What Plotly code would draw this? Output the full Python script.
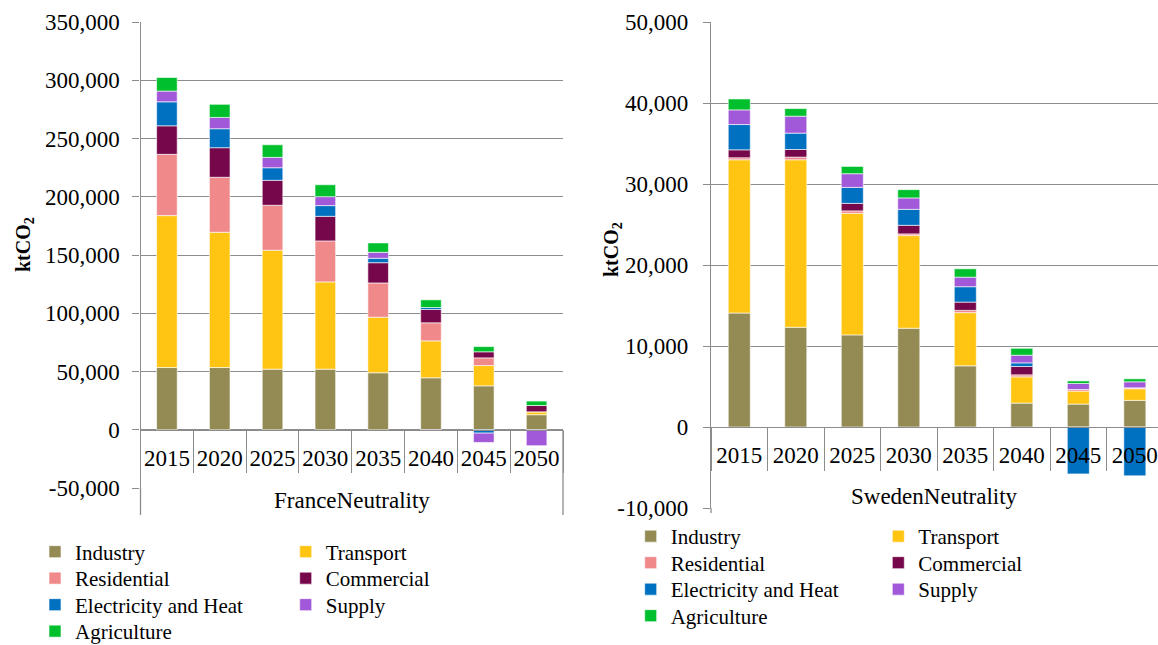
import plotly.graph_objects as go

# ---------------- data ----------------
years = ["2015", "2020", "2025", "2030", "2035", "2040", "2045", "2050"]
sectors = ["Industry", "Transport", "Residential", "Commercial",
           "Electricity and Heat", "Supply", "Agriculture"]

france_industry    = [53400, 53400, 52000, 52000, 48900, 44600, 37700, 12900]
france_transport   = [130400, 116100, 102100, 74900, 47700, 31700, 17400, 2500]
france_residential = [52600, 47200, 38600, 35200, 29400, 15500, 6600, 0]
france_commercial  = [24500, 25400, 21400, 21100, 17400, 11400, 5200, 5400]
france_elec_heat   = [20600, 16300, 10800, 9200, 3800, 1700, -2900, 0]
france_supply      = [9200, 9700, 8900, 7700, 5100, -600, -8000, -13700]
france_agriculture = [11700, 11200, 10800, 10200, 8100, 6600, 4500, 3800]

sweden_industry    = [14070, 12310, 11370, 12190, 7550, 2950, 2830, 3290]
sweden_transport   = [18920, 20680, 15010, 11440, 6570, 3240, 1600, 1430]
sweden_residential = [250, 330, 300, 210, 280, 250, 200, 120]
sweden_commercial  = [980, 940, 930, 1060, 1020, 1030, 0, 0]
sweden_elec_heat   = [3120, 2020, 1970, 1970, 1900, 450, -5790, -6030]
sweden_supply      = [1810, 2090, 1690, 1410, 1180, 940, 740, 740]
sweden_agriculture = [1350, 940, 900, 1020, 1030, 860, 320, 370]

france_ticks = [-50000, 0, 50000, 100000, 150000, 200000, 250000, 300000, 350000]
sweden_ticks = [-10000, 0, 10000, 20000, 30000, 40000, 50000]
france_ticktext = [f"{v:,}" for v in france_ticks]
sweden_ticktext = [f"{v:,}" for v in sweden_ticks]

france_group = "FranceNeutrality"
sweden_group = "SwedenNeutrality"

colors = ["#948A54", "#FFC512", "#F0898A", "#77074B", "#0070C0", "#A259D9", "#00BF2D"]

france_series = [france_industry, france_transport, france_residential, france_commercial,
                 france_elec_heat, france_supply, france_agriculture]
sweden_series = [sweden_industry, sweden_transport, sweden_residential, sweden_commercial,
                 sweden_elec_heat, sweden_supply, sweden_agriculture]

# ---------------- layout helpers ----------------
W, H = 1158, 645
FONT = "Liberation Serif"
GRID = "#8C8C8C"


def fx(p):
    return p / W


def fy(p):
    return 1 - p / H


fig = go.Figure()

legend_layouts = {}
leg_idx = 0
panels = [
    (france_series, "x", "y", 71, 321.7, 552.0),
    (sweden_series, "x2", "y2", 666.7, 914.3, 536.5),
]
for series, xa, ya, tx0, tx1, ry0 in panels:
    for i, (name, vals) in enumerate(zip(sectors, series)):
        leg_idx += 1
        lid = "legend" if leg_idx == 1 else f"legend{leg_idx}"
        fig.add_trace(go.Bar(
            x=years, y=vals, name=name, xaxis=xa, yaxis=ya,
            marker=dict(color=colors[i], line=dict(color="white", width=0.6)),
            legend=lid, showlegend=True,
        ))
        row, col = divmod(i, 2)
        tx = tx0 if col == 0 else tx1
        yc = ry0 + 26.5 * row
        legend_layouts[lid] = dict(
            x=fx(tx - 36), xanchor="left", y=fy(yc), yanchor="middle",
            orientation="v", bgcolor="rgba(0,0,0,0)", borderwidth=0,
            font=dict(family=FONT, size=21, color="black"),
        )

common_x = dict(
    type="category", showgrid=False, showline=True, linecolor=GRID, linewidth=1.3,
    ticks="outside", tickson="boundaries", tickcolor=GRID, tickwidth=1.3, tickangle=0,
    tickfont=dict(family=FONT, size=23, color="black"), anchor="free",
    fixedrange=True, automargin=False,
)
common_y = dict(
    showgrid=True, gridcolor=GRID, gridwidth=1.3, zeroline=True, zerolinecolor=GRID,
    zerolinewidth=1.3, showline=True, linecolor=GRID, linewidth=1.3,
    ticks="outside", ticklen=7, tickcolor=GRID, tickwidth=1.3,
    tickfont=dict(family=FONT, size=23, color="black"), fixedrange=True, automargin=False,
)

fig.update_layout(
    width=W, height=H, margin=dict(l=0, r=0, t=0, b=0, autoexpand=False),
    paper_bgcolor="white", plot_bgcolor="white",
    barmode="relative", bargap=0.61,
    font=dict(family=FONT, color="black"),
    xaxis=dict(common_x, domain=[fx(140.5), fx(563)], range=[-0.5, 7.5],
               position=fy(430), ticklen=42, ticklabelstandoff=7),
    yaxis=dict(common_y, domain=[fy(488), fy(22)], range=[-50000, 350000],
               tickvals=france_ticks, ticktext=france_ticktext, anchor="x",
               ticklabelstandoff=8),
    xaxis2=dict(common_x, domain=[fx(711), 1.0], range=[-0.5, 7.41],
                position=fy(427), ticklen=43, ticklabelstandoff=7),
    yaxis2=dict(common_y, domain=[fy(508), fy(22)], range=[-10000, 50000],
                tickvals=sweden_ticks, ticktext=sweden_ticktext, anchor="x2",
                ticklabelstandoff=10),
    **legend_layouts,
)

# axis titles (rotated) and group labels
fig.add_annotation(text="<b>ktCO<sub>2</sub></b>", textangle=-90, x=fx(24), y=fy(245),
                   xref="paper", yref="paper", xanchor="center", yanchor="middle",
                   showarrow=False, font=dict(family=FONT, size=20, color="black"))
fig.add_annotation(text="<b>ktCO<sub>2</sub></b>", textangle=-90, x=fx(612), y=fy(250),
                   xref="paper", yref="paper", xanchor="center", yanchor="middle",
                   showarrow=False, font=dict(family=FONT, size=20, color="black"))
fig.add_annotation(text=france_group, x=0.5, xref="x domain", y=fy(500), yref="paper",
                   xanchor="center", yanchor="middle", showarrow=False,
                   font=dict(family=FONT, size=23, color="black"))
fig.add_annotation(text=sweden_group, x=0.5, xref="x2 domain", y=fy(497), yref="paper",
                   xanchor="center", yanchor="middle", showarrow=False,
                   font=dict(family=FONT, size=23, color="black"))

# category table outer borders
for xr, xv, y0, y1 in [("x domain", 0, 488, 515), ("x domain", 1, 430, 515),
                       ("x2 domain", 0, 508, 513)]:
    fig.add_shape(type="line", xref=xr, x0=xv, x1=xv, yref="paper", y0=fy(y0), y1=fy(y1),
                  line=dict(color=GRID, width=1.3))

fig.write_html("out.html", config={"displayModeBar": False},
               post_script="document.body.style.margin='0';document.body.style.overflow='hidden';")
